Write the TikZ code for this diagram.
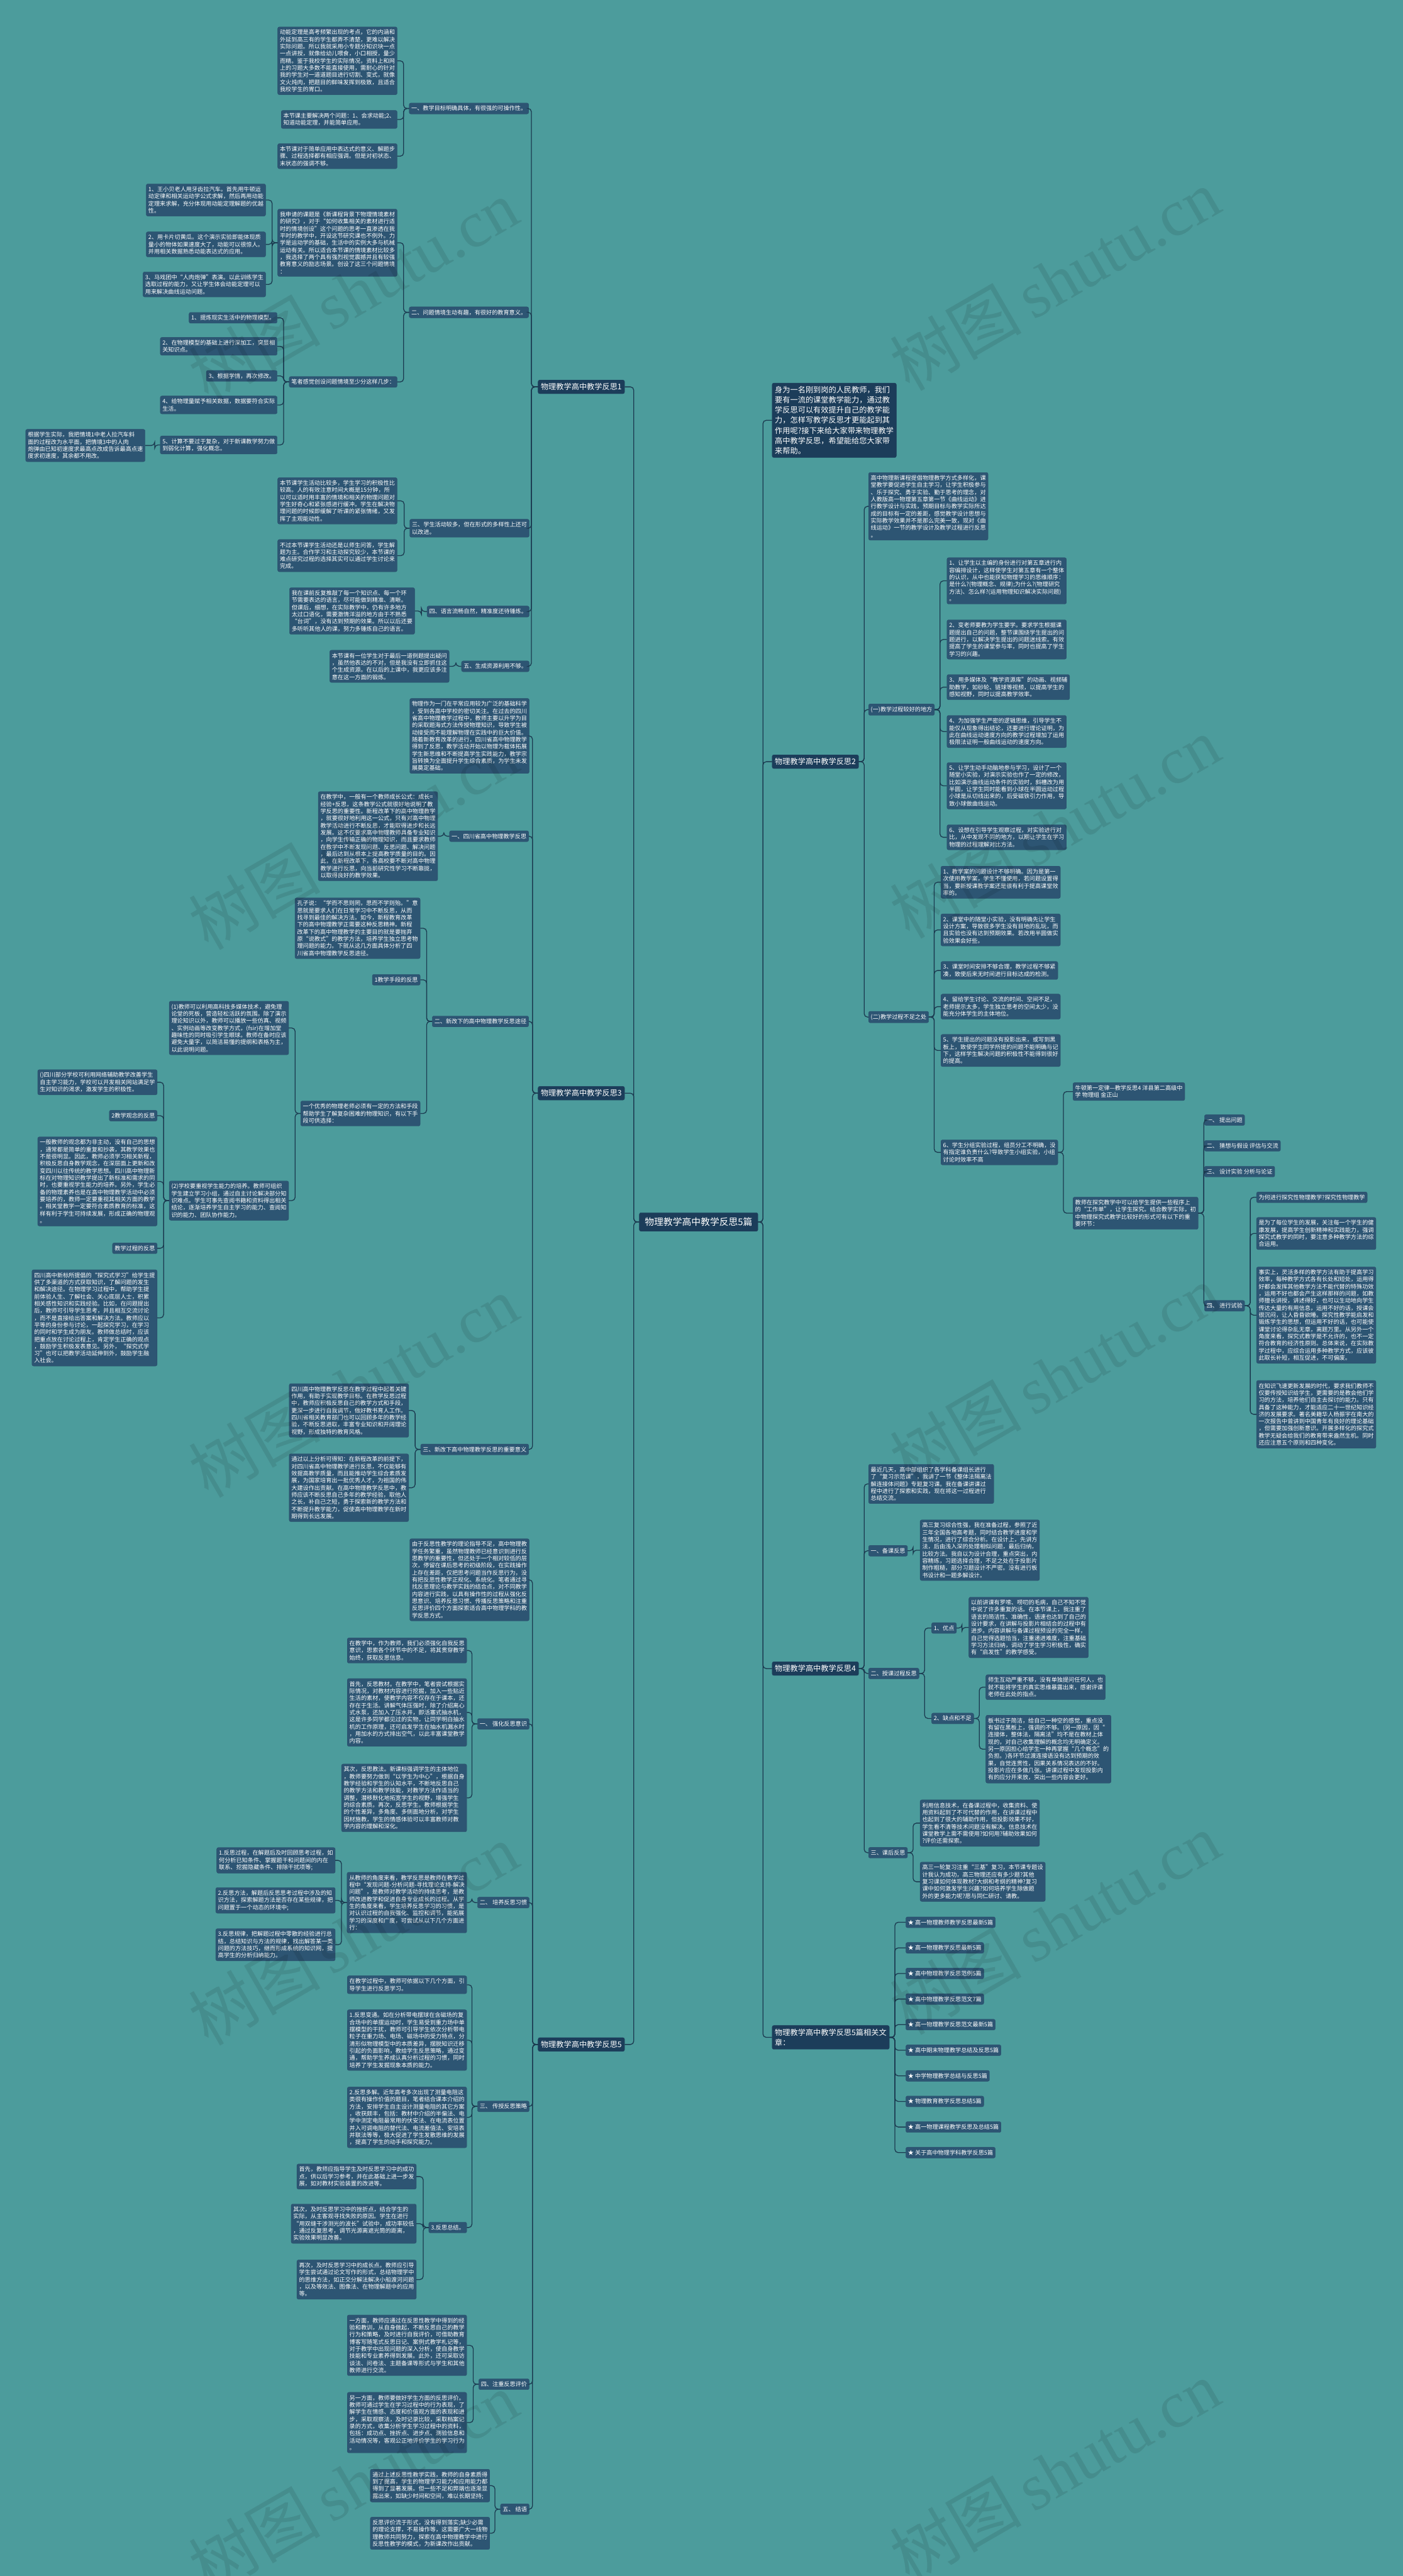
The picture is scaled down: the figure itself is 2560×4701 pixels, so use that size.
\documentclass[tikz,border=0pt]{standalone}
\usepackage{fontspec}
\setmainfont{Noto Sans CJK SC}
\newfontfamily\wmfont{Liberation Serif}
\definecolor{bgteal}{HTML}{4C9C9C}
\definecolor{boxfill}{HTML}{2D5573}
\definecolor{boxedge}{HTML}{284E6A}
\definecolor{topicfill}{HTML}{1C3D5A}
\definecolor{linkcol}{HTML}{1B3A50}
\begin{document}
\begin{tikzpicture}[x=1pt,y=-1pt,
    leaf/.style={fill=boxfill,draw=boxedge,rounded corners=3pt,text=white,align=left,
      inner xsep=4pt,inner ysep=5pt,font=\fontsize{10.5}{13}\selectfont},
    topic/.style={fill=topicfill,draw=topicfill,rounded corners=3pt,text=white,align=left,
      inner xsep=5pt,inner ysep=6pt,font=\fontsize{14}{18.5}\selectfont},
    root/.style={topic,inner xsep=10pt,inner ysep=9pt,font=\fontsize{17}{20}\selectfont},
    link/.style={draw=linkcol,line width=1.5pt,rounded corners=6pt},
    wm/.style={rotate=30,text=black,text opacity=0.09,font=\fontsize{120}{120}\selectfont}]
\fill[bgteal] (0,0) rectangle (2560,4701);
\useasboundingbox (0,0) rectangle (2560,4701);

% root and main topics
\node[root] (c) at (1275,2230) {物理教学高中教学反思5篇};
\node[topic,anchor=east] (m1) at (1140,706) {物理教学高中教学反思1};
\node[topic,anchor=east] (m3) at (1140,1995) {物理教学高中教学反思3};
\node[topic,anchor=east] (m5) at (1140,3731) {物理教学高中教学反思5};
\node[topic,anchor=west] (intro) at (1409,767) {身为一名刚到岗的人民教师，我们\\要有一流的课堂教学能力，通过教\\学反思可以有效提升自己的教学能\\力，怎样写教学反思才更能起到其\\作用呢?接下来给大家带来物理教学\\高中教学反思，希望能给您大家带\\来帮助。};
\node[topic,anchor=west] (m2) at (1409,1390) {物理教学高中教学反思2};
\node[topic,anchor=west] (m4) at (1409,3045) {物理教学高中教学反思4};
\node[topic,anchor=west] (m6) at (1409,3718) {物理教学高中教学反思5篇相关文\\章：};
\foreach \k in {m1,m3,m5} \draw[link] (c.west) -- ++(-10,0) |- (\k.east);
\foreach \k in {intro,m2,m4,m6} \draw[link] (c.east) -- ++(9,0) |- (\k.west);

% ---- 反思1
\node[leaf,anchor=east] (s11) at (965,198) {一、教学目标明确具体，有很强的可操作性。};
\node[leaf,anchor=east] (s12) at (965,570) {二、问题情境生动有趣，有很好的教育意义。};
\node[leaf,anchor=east] (s13) at (966,964) {三、学生活动较多，但在形式的多样性上还可\\以改进。};
\node[leaf,anchor=east] (s14) at (966,1116) {四、语言流畅自然，精准度还待锤炼。};
\node[leaf,anchor=east] (s15) at (966,1216) {五、生成资源利用不够。};
\foreach \k in {s11,s12,s13,s14,s15} \draw[link] (m1.west) -- ++(-12,0) |- (\k.east);

\node[leaf,anchor=east] (a1) at (725,111) {动能定理是高考频繁出现的考点，它的内涵和\\外延到高三有的学生都弄不清楚，更难以解决\\实际问题。所以我就采用小专题分知识块一点\\一点讲授，就像给幼儿喂食，小口相授，量少\\而精。鉴于我校学生的实际情况，资料上和网\\上的习题大多数不能直接使用，需耐心的针对\\我的学生对一道道题目进行切割、变式，就像\\文火炖肉，把题目的鲜味发挥到极致，且适合\\我校学生的胃口。};
\node[leaf,anchor=east] (a2) at (725,218) {本节课主要解决两个问题：1、会求动能;2、\\知道动能定理，并能简单应用。};
\node[leaf,anchor=east] (a3) at (725,285) {本节课对于简单应用中表达式的意义、解题步\\骤、过程选择都有相应强调。但是对初状态、\\末状态的强调不够。};
\foreach \k in {a1,a2,a3} \draw[link] (s11.west) -- ++(-10,0) |- (\k.east);

\node[leaf,anchor=east] (b1) at (725,443) {我申请的课题是《新课程背景下物理情境素材\\的研究》，对于“如何收集相关的素材进行适\\时的情境创设”这个问题的思考一直渗透在我\\平时的教学中，开设这节研究课也不例外。力\\学是运动学的基础，生活中的实例大多与机械\\运动有关。所以适合本节课的情境素材比较多\\，我选择了两个具有强烈视觉震撼并且有较强\\教育意义的励志场景。创设了这三个问题情境\\：};
\node[leaf,anchor=east] (b2) at (725,697) {笔者感觉创设问题情境至少分这样几步：};
\foreach \k in {b1,b2} \draw[link] (s12.west) -- ++(-10,0) |- (\k.east);
\node[leaf,anchor=east] (b11) at (485,365) {1、王小贝老人用牙齿拉汽车。首先用牛顿运\\动定律和相关运动学公式求解，然后再用动能\\定理来求解，充分体现用动能定理解题的优越\\性。};
\node[leaf,anchor=east] (b12) at (485,446) {2、用卡片切黄瓜。这个演示实验即能体现质\\量小的物体如果速度大了，动能可以很惊人。\\并用相关数据熟悉动能表达式的应用。};
\node[leaf,anchor=east] (b13) at (485,519) {3、马戏团中“人肉炮弹”表演。以此训练学生\\选取过程的能力，又让学生体会动能定理可以\\用来解决曲线运动问题。};
\foreach \k in {b11,b12,b13} \draw[link] (b1.west) -- ++(-10,0) |- (\k.east);
\node[leaf,anchor=east] (b21) at (506,580) {1、提炼现实生活中的物理模型。};
\node[leaf,anchor=east] (b22) at (506,632) {2、在物理模型的基础上进行深加工，突显相\\关知识点。};
\node[leaf,anchor=east] (b23) at (506,686) {3、根据学情，再次修改。};
\node[leaf,anchor=east] (b24) at (506,739) {4、给物理量赋予相关数据，数据要符合实际\\生活。};
\node[leaf,anchor=east] (b25) at (506,812) {5、计算不要过于复杂，对于新课教学努力做\\到弱化计算，强化概念。};
\foreach \k in {b21,b22,b23,b24,b25} \draw[link] (b2.west) -- ++(-10,0) |- (\k.east);
\node[leaf,anchor=east] (b251) at (265,813) {根据学生实际，我把情境1中老人拉汽车斜\\面的过程改为水平面，把情境3中的人肉\\炮弹由已知初速度求最高点改成告诉最高点速\\度求初速度，其余都不用改。};
\draw[link] (b25.west) -- ++(-10,0) |- (b251.east);

\node[leaf,anchor=east] (c1) at (725,914) {本节课学生活动比较多，学生学习的积极性比\\较高。人的有效注意时间大概是15分钟，所\\以可以适时用丰富的情境和相关的物理问题对\\学生好奇心和紧张感进行缓冲。学生在解决物\\理问题的时候即缓解了听课的紧张情绪，又发\\挥了主观能动性。};
\node[leaf,anchor=east] (c2) at (725,1014) {不过本节课学生活动还是以师生问答，学生解\\题为主。合作学习和主动探究较少，本节课的\\难点研究过程的选择其实可以通过学生讨论来\\完成。};
\foreach \k in {c1,c2} \draw[link] (s13.west) -- ++(-10,0) |- (\k.east);
\node[leaf,anchor=east] (d1) at (757,1115) {我在课前反复推敲了每一个知识点、每一个环\\节需要表达的语言，尽可能做到精准、清晰。\\但课后，细想，在实际教学中，仍有许多地方\\太过口语化，需要激情洋溢的地方由于不熟悉\\“台词”，没有达到预期的效果。所以以后还要\\多听听其他人的课，努力多锤炼自己的语言。};
\draw[link] (s14.west) -- ++(-10,0) |- (d1.east);
\node[leaf,anchor=east] (e1) at (820,1216) {本节课有一位学生对于最后一道例题提出疑问\\，虽然他表达的不对，但是我没有立即抓住这\\个生成资源。在以后的上课中，我更应该多注\\意在这一方面的锻炼。};
\draw[link] (s15.west) -- ++(-10,0) |- (e1.east);

% ---- 反思3
\node[leaf,anchor=east] (s30) at (966,1343) {物理作为一门在平常应用较为广泛的基础科学\\，受到各高中学校的密切关注。在过去的四川\\省高中物理教学过程中，教师主要以升学为目\\的采取题海式方法传授物理知识，导致学生被\\动接受而不能理解物理在实践中的巨大价值。\\随着新教育改革的进行，四川省高中物理教学\\得到了反思，教学活动开始以物理为载体拓展\\学生新思维和不断提高学生实践能力，教学宗\\旨转换为全面提升学生综合素质，为学生未发\\展奠定基础。};
\node[leaf,anchor=east] (s31) at (965,1526) {一、四川省高中物理教学反思};
\node[leaf,anchor=east] (s32) at (965,1864) {二、新改下的高中物理教学反思途径};
\node[leaf,anchor=east] (s33) at (965,2645) {三、新改下高中物理教学反思的重要意义};
\foreach \k in {s30,s31,s32,s33} \draw[link] (m3.west) -- ++(-10,0) |- (\k.east);

\node[leaf,anchor=east] (f1) at (799,1526) {在教学中，一般有一个教师成长公式：成长=\\经验+反思，这条教学公式就很好地说明了教\\学反思的重要性。新程改革下的高中物理教学\\，就要很好地利用这一公式，只有对高中物理\\教学活动进行不断反思，才能取得进步和长远\\发展。这不仅要求高中物理教师具备专业知识\\，向学生传输正确的物理知识，而且要求教师\\在教学中不断发现问题、反思问题、解决问题\\，最后达到从根本上提高教学质量的目的。因\\此，在新程改革下，各高校要不断对高中物理\\教学进行反思，向当前研究性学习不断靠拢，\\以取得良好的教学效果。};
\draw[link] (s31.west) -- ++(-10,0) |- (f1.east);

\node[leaf,anchor=east] (g1) at (767,1694) {孔子说：“学而不思则罔，思而不学则殆。”意\\思就是要求人们在日常学习中不断反思，从而\\找寻到最佳的解决方法。如今，新程教育改革\\下的高中物理教学正需要这种反思精神。新程\\改革下的高中物理教学的主要目的就是要抛弃\\原“说教式”的教学方法，培养学生独立思考物\\理问题的能力。下就从这几方面具体分析了四\\川省高中物理教学反思途径。};
\node[leaf,anchor=east] (g2) at (767,1788) {1教学手段的反思};
\node[leaf,anchor=east] (g3) at (767,2032) {一个优秀的物理老师必须有一定的方法和手段\\帮助学生了解复杂困难的物理知识，有以下手\\段可供选择：};
\foreach \k in {g1,g2,g3} \draw[link] (s32.west) -- ++(-10,0) |- (\k.east);
\node[leaf,anchor=east] (g31) at (527,1876) {(1)教师可以利用高科技多媒体技术，避免理\\论堂的死板，营造轻松活跃的氛围。除了演示\\理论知识以外，教师可以播放一些仿真、视频\\、实例动画等改变教学方式，(fsir)在增加堂\\趣味性的同时吸引学生眼球。教师在备时应该\\避免大量字，以简洁易懂的提纲和表格为主，\\以此说明问题。};
\node[leaf,anchor=east] (g32) at (527,2191) {(2)学校要重视学生能力的培养。教师可组织\\学生建立学习小组，通过自主讨论解决部分知\\识难点。学生可事先查阅书籍和资料得出相关\\结论，逐渐培养学生自主学习的能力、查阅知\\识的能力、团队协作能力。};
\foreach \k in {g31,g32} \draw[link] (g3.west) -- ++(-10,0) |- (\k.east);
\node[leaf,anchor=east] (h1) at (287,1975) {()四川部分学校可利用网络辅助教学改善学生\\自主学习能力，学校可以开发相关网站满足学\\生对知识的渴求，激发学生的积极性。};
\node[leaf,anchor=east] (h2) at (287,2036) {2教学观念的反思};
\node[leaf,anchor=east] (h3) at (287,2156) {一般教师的观念都为非主动，没有自己的思想\\，通常都是简单的重复和抄袭，其教学效果也\\不是很明显。因此，教师必须学习相关新程，\\积极反思自身教学观念，在深层面上更新和改\\变四川以往传统的教学思想。四川高中物理新\\标在对物理知识教学提出了新标准和需求的同\\时，也要重视学生能力的培养。另外，学生必\\备的物理素养也是在高中物理教学活动中必须\\要培养的，教师一定要重视其相关方面的教学\\。相关堂教学一定要符合素质教育的标准，这\\样有利于学生可持续发展，形成正确的物理观\\。};
\node[leaf,anchor=east] (h4) at (287,2278) {教学过程的反思};
\node[leaf,anchor=east] (h5) at (287,2405) {四川高中新标所提倡的“探究式学习”给学生提\\供了多渠道的方式获取知识，了解问题的发生\\和解决途径。在物理学习过程中，帮助学生提\\前体验人生、了解社会、关心底层人士，积累\\相关感性知识和实践经验。比如，在问题提出\\后，教师可引导学生思考，并且相互交流讨论\\，而不是直接给出答案和解决方法。教师应以\\平等的身份参与讨论，一起探究学习，在学习\\的同时和学生成为朋友。教师做总结时，应该\\把重点放在讨论过程上，肯定学生正确的观点\\，鼓励学生积极发表意见。另外，“探究式学\\习”也可以把教学活动延伸到外，鼓励学生融\\入社会。};
\foreach \k in {h1,h2,h3,h4,h5} \draw[link] (g32.west) -- ++(-10,0) |- (\k.east);

\node[leaf,anchor=east] (k1) at (746,2574) {四川高中物理教学反思在教学过程中起着关键\\作用，有助于实现教学目标。在教学反思过程\\中，教师应积极反思自己的教学方式和手段，\\更深一步进行自我调节，做好教书育人工作。\\四川省相关教育部门也可以回顾多年的教学经\\验，不断反思进取，丰富专业知识和开阔理论\\视野，形成独特的教育风格。};
\node[leaf,anchor=east] (k2) at (746,2715) {通过以上分析可得知：在新程改革的前提下，\\对四川省高中物理教学进行反思，不仅能够有\\效提高教学质量，而且能推动学生综合素质发\\展，为国家培育出一批优秀人才，为祖国的伟\\大建设作出贡献。在高中物理教学反思中，教\\师应该不断反思自己多年的教学经验，取他人\\之长，补自己之短，勇于探索新的教学方法和\\不断提升教学能力，促使高中物理教学在新时\\期得到长远发展。};
\foreach \k in {k1,k2} \draw[link] (s33.west) -- ++(-10,0) |- (\k.east);

% ---- 反思5
\node[leaf,anchor=east] (s50) at (966,2883) {由于反思性教学的理论指导不足，高中物理教\\学任务繁重，虽然物理教师已经意识到进行反\\思教学的重要性，但还处于一个相对较低的层\\次，停留在课后思考的初级阶段，在实践操作\\上存在差距，仅把思考问题当作反思行为，没\\有把反思性教学正规化、系统化。笔者通过寻\\找反思理论与教学实践的结合点，对不同教学\\内容进行实践，以具有操作性的过程从强化反\\思意识、培养反思习惯、传播反思策略和注重\\反思评价四个方面探索适合高中物理学科的教\\学反思方式。};
\node[leaf,anchor=east] (s51) at (966,3146) {一、 强化反思意识};
\node[leaf,anchor=east] (s52) at (966,3472) {二、 培养反思习惯};
\node[leaf,anchor=east] (s53) at (966,3844) {三、 传授反思策略};
\node[leaf,anchor=east] (s54) at (966,4351) {四、注重反思评价};
\node[leaf,anchor=east] (s55) at (966,4579) {五、 结语};
\foreach \k in {s50,s51,s52,s53,s54,s55} \draw[link] (m5.west) -- ++(-10,0) |- (\k.east);

\node[leaf,anchor=east] (p1) at (852,3012) {在教学中，作为教师，我们必须强化自我反思\\意识，思索各个环节中的不足，将其贯穿教学\\始终，获取反思信息。};
\node[leaf,anchor=east] (p2) at (852,3125) {首先，反思教材。在教学中，笔者尝试根据实\\际情况，对教材内容进行挖掘，加入一些贴近\\生活的素材，使教学内容不仅存在于课本，还\\存在于生活。讲解气体压强时，除了介绍离心\\式水泵，还加入了压水井，即活塞式抽水机，\\这是许多同学都见过的实物，让同学明白抽水\\机的工作原理，还可启发学生在抽水机漏水时\\，用加水的方式排出空气，以此丰富课堂教学\\内容。};
\node[leaf,anchor=east] (p3) at (852,3281) {其次，反思教法。新课标强调学生的主体地位\\，教师要努力做到“以学生为中心”，根据自身\\教学经验和学生的认知水平，不断地反思自己\\的教学方法和教学技能，对教学方法作适当的\\调整，潜移默化地拓宽学生的视野，增强学生\\的综合素质。再次，反思学生。教师根据学生\\的个性差异，多角度、多侧面地分析，对学生\\因材施教，学生的情感体验可以丰富教师对教\\学内容的理解和深化。};
\foreach \k in {p1,p2,p3} \draw[link] (s51.west) -- ++(-10,0) |- (\k.east);

\node[leaf,anchor=east] (q1) at (852,3472) {从教师的角度来看，教学反思是教师在教学过\\程中“发现问题-分析问题-寻找理论支持-解决\\问题”，是教师对教学活动的持续思考，是教\\师改进教学和促进自身专业成长的过程。从学\\生的角度来看，学生培养反思学习的习惯，是\\对认识过程的自我强化、监控和调节，能拓展\\学习的深度和广度，可尝试从以下几个方面进\\行：};
\draw[link] (s52.west) -- ++(-10,0) |- (q1.east);
\node[leaf,anchor=east] (q11) at (612,3395) {1.反思过程，在解题后及时回顾思考过程，如\\何分析已知条件、掌握题干和问题间的内在\\联系、挖掘隐藏条件、排除干扰项等;};
\node[leaf,anchor=east] (q12) at (612,3468) {2.反思方法，解题后反思思考过程中涉及的知\\识方法，探索解题方法是否存在某些规律，把\\问题置于一个动态的环境中;};
\node[leaf,anchor=east] (q13) at (612,3549) {3.反思规律，把解题过程中零散的经验进行总\\结，总结知识与方法的规律，找出解答某一类\\问题的方法技巧，继而形成系统的知识网，提\\高学生的分析归纳能力。};
\foreach \k in {q11,q12,q13} \draw[link] (q1.west) -- ++(-10,0) |- (\k.east);

\node[leaf,anchor=east] (r1) at (852,3622) {在教学过程中，教师可依据以下几个方面，引\\导学生进行反思学习。};
\node[leaf,anchor=east] (r2) at (852,3723) {1.反思变通。如在分析带电摆球在含磁场的复\\合场中的单摆运动时，学生易受到重力场中单\\摆模型的干扰，教师可引导学生依次分析带电\\粒子在重力场、电场、磁场中的受力特点，分\\清形似物理模型中的本质差异，摆脱知识迁移\\引起的负面影响，教给学生反思策略，通过变\\通，帮助学生养成认真分析过程的习惯，同时\\培养了学生发掘现象本质的能力。};
\node[leaf,anchor=east] (r3) at (852,3864) {2.反思多解。近年高考多次出现了测量电阻这\\类很有操作价值的题目，笔者结合课本介绍的\\方法，安排学生自主设计测量电阻的其它方案\\，收获颇丰，包括：教材中介绍的半偏法、电\\学中测定电阻最常用的伏安法、在电流表位置\\并入可调电阻的替代法、电流差值法、安培表\\并联法等等，极大促进了学生发散思维的发展\\，提高了学生的动手和探究能力。};
\node[leaf,anchor=east] (r4) at (852,4065) {3.反思总结。};
\foreach \k in {r1,r2,r3,r4} \draw[link] (s53.west) -- ++(-10,0) |- (\k.east);
\node[leaf,anchor=east] (r41) at (760,3972) {首先，教师应指导学生及时反思学习中的成功\\点，供以后学习参考，并在此基础上进一步发\\展，如对教材实验装置的改进等。};
\node[leaf,anchor=east] (r42) at (760,4058) {其次，及时反思学习中的挫折点，结合学生的\\实际，从主客观寻找失败的原因。学生在进行\\“用双缝干涉测光的波长”试验中，成功率较低\\，通过反复思考，调节光源离遮光筒的距离，\\实验效果明显改善。};
\node[leaf,anchor=east] (r43) at (760,4160) {再次，及时反思学习中的成长点。教师应引导\\学生尝试通过论文写作的形式，总结物理学中\\的思维方法，如正交分解法解决小船渡河问题\\，以及等效法、图像法、在物理解题中的应用\\等。};
\foreach \k in {r41,r42,r43} \draw[link] (r4.west) -- ++(-10,0) |- (\k.east);

\node[leaf,anchor=east] (t1) at (852,4280) {一方面，教师应通过在反思性教学中得到的经\\验和教训，从自身做起，不断反思自己的教学\\行为和策略，及时进行自我评价，可借助教育\\博客写随笔式反思日记、案例式教学札记等，\\对于教学中出现问题的深入分析，使自身教学\\技能和专业素养得到发展。此外，还可采取访\\谈法、问卷法、主题备课等形式与学生和其他\\教师进行交流。};
\node[leaf,anchor=east] (t2) at (852,4421) {另一方面，教师要做好学生方面的反思评价。\\教师可通过学生在学习过程中的行为表现，了\\解学生在情感、态度和价值观方面的表现和进\\步，采取观察法，及时记录比较，采取档案记\\录的方式，收集分析学生学习过程中的资料，\\包括：成功点、挫折点、进步点、测验信息和\\活动情况等，客观公正地评价学生的学习行为\\。};
\foreach \k in {t1,t2} \draw[link] (s54.west) -- ++(-10,0) |- (\k.east);
\node[leaf,anchor=east] (u1) at (894,4536) {通过上述反思性教学实践，教师的自身素质得\\到了提高，学生的物理学习能力和应用能力都\\得到了显著发展。但一些不足和弊端也逐渐显\\露出来，如缺少时间和空间，难以长期坚持;};
\node[leaf,anchor=east] (u2) at (894,4623) {反思评价流于形式，没有得到落实;缺少必需\\的理论支撑，不易操作等，这需要广大一线物\\理教师共同努力，探索在高中物理教学中进行\\反思性教学的模式，为新课改作出贡献。};
\foreach \k in {u1,u2} \draw[link] (s55.west) -- ++(-10,0) |- (\k.east);

% ---- 反思2
\node[leaf,anchor=west] (v0) at (1585,924) {高中物理新课程提倡物理教学方式多样化，课\\堂教学要促进学生自主学习，让学生积极参与\\、乐于探究、勇于实验、勤于思考的理念，对\\人教版高一物理第五章第一节《曲线运动》进\\行教学设计与实践，预期目标与教学实际所达\\成的目标有一定的差距，感觉教学设计思想与\\实际教学效果并不是那么完美一致，现对《曲\\线运动》一节的教学设计及教学过程进行反思\\。};
\node[leaf,anchor=west] (v1) at (1585,1295) {(一)教学过程较好的地方};
\node[leaf,anchor=west] (v2) at (1585,1856) {(二)教学过程不足之处};
\foreach \k in {v0,v1,v2} \draw[link] (m2.east) -- ++(10,0) |- (\k.west);
\node[leaf,anchor=west] (w1) at (1728,1060) {1、让学生以主编的身份进行对第五章进行内\\容编排设计，这样使学生对第五章有一个整体\\的认识，从中也能获知物理学习的思维顺序：\\是什么?(物理概念、规律);为什么?(物理研究\\方法)、怎么样?(运用物理知识解决实际问题)\\。};
\node[leaf,anchor=west] (w2) at (1728,1167) {2、变老师要教为学生要学。要求学生根据课\\题提出自己的问题，整节课围绕学生提出的问\\题进行，以解决学生提出的问题迷线索。有效\\提高了学生的课堂参与率，同时也提高了学生\\学习的兴趣。};
\node[leaf,anchor=west] (w3) at (1728,1254) {3、用多媒体及“教学资源库”的动画、视频辅\\助教学，如砂轮、链球等视频，以提高学生的\\感知视野，同时以提高教学效率。};
\node[leaf,anchor=west] (w4) at (1728,1335) {4、为加强学生严密的逻辑思维，引导学生不\\能仅从现象得出结论，还要进行理论证明，为\\此在曲线运动速度方向的教学过程增加了运用\\极限法证明一般曲线运动的速度方向。};
\node[leaf,anchor=west] (w5) at (1728,1434) {5、让学生动手动脑地参与学习，设计了一个\\随堂小实验，对演示实验也作了一定的修改，\\比如演示曲线运动条件的实验时，斜槽改为用\\半圆，让学生同时能看到小球在半圆运动过程\\小球是从切线出来的，后受磁铁引力作用，导\\致小球做曲线运动。};
\node[leaf,anchor=west] (w6) at (1728,1528) {6、设想在引导学生观察过程，对实验进行对\\比，从中发现不同的地方，以期让学生在学习\\物理的过程理解对比方法。};
\foreach \k in {w1,w2,w3,w4,w5,w6} \draw[link] (v1.east) -- ++(10,0) |- (\k.west);
\node[leaf,anchor=west] (x1) at (1717,1610) {1、教学案的问题设计不够明确。因为是第一\\次使用教学案，学生不懂使用，若问题设置得\\当，要新授课教学案还是很有利于提高课堂效\\率的。};
\node[leaf,anchor=west] (x2) at (1717,1697) {2、课堂中的随堂小实验，没有明确先让学生\\设计方案，导致很多学生没有目地的乱玩，而\\且实验也没有达到预期效果。若改用半圆做实\\验效果会好些。};
\node[leaf,anchor=west] (x3) at (1717,1771) {3、课堂时间安排不够合理，教学过程不够紧\\凑，致使后来无时间进行目标达成的检测。};
\node[leaf,anchor=west] (x4) at (1717,1837) {4、留给学生讨论、交流的时间、空间不足，\\老师提示太多，学生独立思考的空间太少，没\\能充分体学生的主体地位。};
\node[leaf,anchor=west] (x5) at (1717,1917) {5、学生提出的问题没有投影出来，或写到黑\\板上，致使学生同学所提的问题不能明确与记\\下，这样学生解决问题的积极性不能得到很好\\的提高。};
\node[leaf,anchor=west] (x6) at (1717,2103) {6、学生分组实验过程，组员分工不明确，没\\有指定谁负责什么?导致学生小组实验，小组\\讨论时效率不高};
\foreach \k in {x1,x2,x3,x4,x5,x6} \draw[link] (v2.east) -- ++(10,0) |- (\k.west);
\node[leaf,anchor=west] (y1) at (1958,1992) {牛顿第一定律---教学反思4 洋县第二高级中\\学 物理组 金正山};
\node[leaf,anchor=west] (y2) at (1958,2214) {教师在探究教学中可以给学生提供一些程序上\\的“工作单”，让学生探究。结合教学实际，初\\中物理探究式教学比较好的形式可有以下的重\\要环节：};
\foreach \k in {y1,y2} \draw[link] (x6.east) -- ++(10,0) |- (\k.west);
\node[leaf,anchor=west] (z1) at (2198,2044) {一、 提出问题};
\node[leaf,anchor=west] (z2) at (2198,2091) {二、 猜想与假设 评估与交流};
\node[leaf,anchor=west] (z3) at (2198,2138) {三、 设计实验 分析与论证};
\node[leaf,anchor=west] (z4) at (2198,2383) {四、 进行试验};
\foreach \k in {z1,z2,z3,z4} \draw[link] (y2.east) -- ++(10,0) |- (\k.west);
\node[leaf,anchor=west] (z41) at (2293,2185) {为何进行探究性物理教学?探究性物理教学};
\node[leaf,anchor=west] (z42) at (2293,2251) {是为了每位学生的发展，关注每一个学生的健\\康发展，提高学生创新精神和实践能力，强调\\探究式教学的同时，要注意多种教学方法的综\\合运用。};
\node[leaf,anchor=west] (z43) at (2293,2400) {事实上，灵活多样的教学方法有助于提高学习\\效率，每种教学方式各有长处和短处，运用得\\好都会发挥其他教学方法不能代替的特殊功效\\，运用不好也都会产生这样那样的问题，如教\\师擅长讲授，讲述得好，也可以生动地向学生\\传达大量的有用信息，运用不好的话，授课会\\很沉闷，让人昏昏欲睡。探究性教学能启发和\\锻炼学生的思想，但运用不好的话，也可能使\\课堂讨论得杂乱无章，离题万里。从另外一个\\角度来看，探究式教学是不允许的，也不一定\\符合教育的经济性原则。总体来说，在实际教\\学过程中，应综合运用多种教学方式，应该彼\\此取长补短，相互促进，不可偏废。};
\node[leaf,anchor=west] (z44) at (2293,2581) {在知识飞速更新发展的时代，要求我们教师不\\仅要传授知识给学生，更需要的是教会他们学\\习的方法，培养他们自主去探讨的能力。只有\\具备了这种能力，才能适应二十一世纪知识经\\济的发展要求。著名美籍华人杨振宇在南大的\\一次报告中曾讲到中国青年有良好的理论基础\\，但需要加强创新意识。开展多样化的探究式\\教学无疑会给我们的教育带来盎然生机。同时\\还应注意五个原则和四种变化。};
\foreach \k in {z41,z42,z43,z44} \draw[link] (z4.east) -- ++(10,0) |- (\k.west);

% ---- 反思4
\node[leaf,anchor=west] (n0) at (1585,2708) {最近几天，高中部组织了各学科备课组长进行\\了“复习示范课”，我讲了一节《整体法隔离法\\解连接体问题》专题复习课。我在备课讲课过\\程中进行了探索和实践，现在将这一过程进行\\总结交流。};
\node[leaf,anchor=west] (n1) at (1585,2830) {一、备课反思};
\node[leaf,anchor=west] (n2) at (1585,3054) {二、授课过程反思};
\node[leaf,anchor=west] (n3) at (1585,3381) {三、课后反思};
\foreach \k in {n0,n1,n2,n3} \draw[link] (m4.east) -- ++(10,0) |- (\k.west);
\node[leaf,anchor=west] (n11) at (1679,2829) {高三复习综合性强，我在准备过程，参照了近\\三年全国各地高考题，同时结合教学进度和学\\生情况，进行了综合分析。在设计上，先讲方\\法，后由浅入深的处理相似问题，最后归纳，\\比较方法。我自以为设计合理，重点突出，内\\容精练，习题选择合理，不足之处在于投影片\\制作粗糙，部分习题设计不严密。没有进行板\\书设计和一题多解设计。};
\draw[link] (n1.east) -- ++(10,0) |- (n11.west);
\node[leaf,anchor=west] (n21) at (1700,2971) {1、优点};
\node[leaf,anchor=west] (n22) at (1700,3136) {2、缺点和不足};
\foreach \k in {n21,n22} \draw[link] (n2.east) -- ++(10,0) |- (\k.west);
\node[leaf,anchor=west] (n211) at (1768,2970) {以前讲课有罗嗦、唠叨的毛病，自己不知不觉\\中说了许多重复的话。在本节课上，我注重了\\语言的简洁性、准确性，语速也达到了自己的\\设计要求，在讲解与投影片相结合的过程中有\\进步。内容讲解与备课过程预设的完全一样，\\自己觉得选题恰当，注重递进难度，注重基础\\学习方法归纳，调动了学生学习积极性，确实\\有“启发性”的教学感受。};
\draw[link] (n21.east) -- ++(10,0) |- (n211.west);
\node[leaf,anchor=west] (n221) at (1799,3079) {师生互动严重不够，没有单独提问任何人，也\\就不能将学生的真实思维暴露出来，感谢评课\\老师在此处的指点。};
\node[leaf,anchor=west] (n222) at (1799,3192) {板书过于简洁，给自己一种空的感觉，重点没\\有留在黑板上，强调的不够。(另一原因，因“\\连接体，整体法，隔离法”均不是在教材上体\\现的，对自己收集理解的概念均无明确定义。\\另一原因担心给学生一种再掌握“几个概念”的\\负担。)各环节过渡连接语没有达到预期的效\\果，自觉连贯性，因果关系情况表达的不好。\\投影片应在多做几张。讲课过程中发现投影内\\有的应分开来放，突出一些内容会更好。};
\foreach \k in {n221,n222} \draw[link] (n22.east) -- ++(10,0) |- (\k.west);
\node[leaf,anchor=west] (n31) at (1679,3327) {利用信息技术，在备课过程中，收集资料、使\\用资料起到了不可代替的作用，在讲课过程中\\也起到了很大的辅助作用，但投影效果不好，\\学生看不清等技术问题没有解决。信息技术在\\课堂教学上需不需使用?如何用?辅助效果如何\\?评价还需探索。};
\node[leaf,anchor=west] (n32) at (1679,3434) {高三一轮复习注重“三基”复习，本节课专题设\\计我认为成功，高三物理还应有多少题?其他\\复习课如何体现教材?大纲和考纲的精神?复习\\课中如何激发学生兴趣?如何培养学生除做题\\外的更多能力呢?愿与同仁研讨、请教。};
\foreach \k in {n31,n32} \draw[link] (n3.east) -- ++(10,0) |- (\k.west);

% ---- 相关文章
\foreach \t [count=\i] in {高一物理教师教学反思最新5篇,高一物理教学反思最新5篇,高中物理教学反思范例5篇,高中物理教学反思范文7篇,高一物理教学反思范文最新5篇,高中期末物理教学总结及反思5篇,中学物理教学总结与反思5篇,物理教育教学反思总结5篇,高一物理课程教学反思及总结5篇,关于高中物理学科教学反思5篇}{
  \node[leaf,anchor=west] (art\i) at (1653,{3508+46.7*(\i-1)}) {★ \t};
  \draw[link] (m6.east) -- ++(10,0) |- (art\i.west);
}

% watermark
\foreach \y in {530,1530,2530,3530,4530}{
  \node[wm] at (645,\y) {树图\,{\wmfont shutu.cn}};
  \node[wm] at (1925,\y-20) {树图\,{\wmfont shutu.cn}};
}
\end{tikzpicture}
\end{document}
